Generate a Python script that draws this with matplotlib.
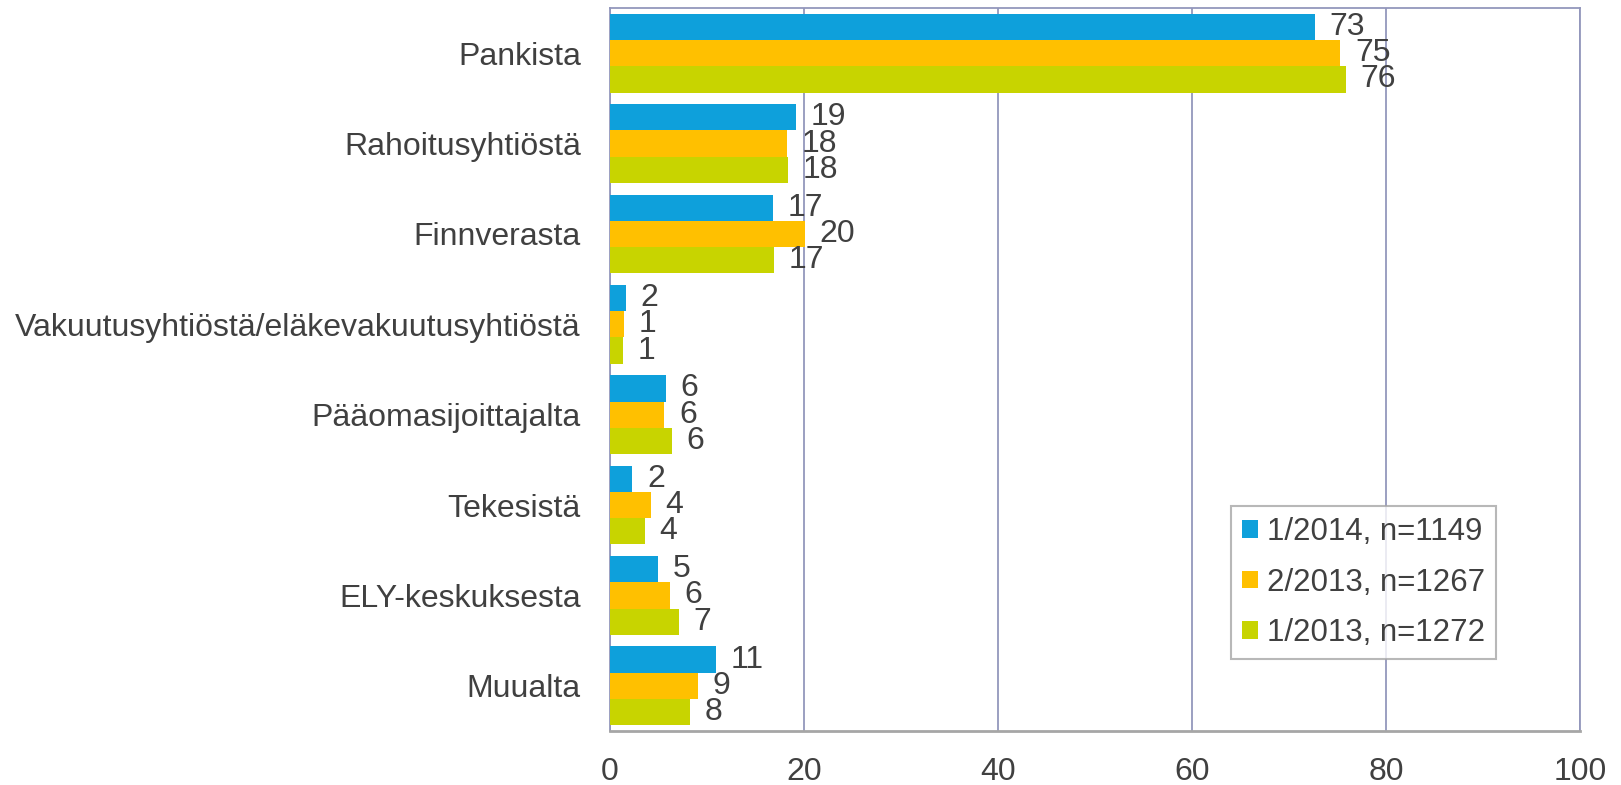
import numpy as np
import matplotlib.pyplot as plt
from matplotlib.patches import Patch

plt.rcParams['font.family'] = ['Liberation Sans', 'DejaVu Sans']

# Rahoituksen lähteet (%), kolme kyselykierrosta
kategoriat = ['Pankista', 'Rahoitusyhtiöstä', 'Finnverasta',
              'Vakuutusyhtiöstä/eläkevakuutusyhtiöstä', 'Pääomasijoittajalta',
              'Tekesistä', 'ELY-keskuksesta', 'Muualta']
kierros_2014_1 = [72.7, 19.2, 16.8, 1.6, 5.8, 2.3, 5.0, 10.9]
kierros_2013_2 = [75.3, 18.3, 20.1, 1.4, 5.6, 4.2, 6.2, 9.1]
kierros_2013_1 = [75.9, 18.4, 16.9, 1.3, 6.4, 3.6, 7.1, 8.3]
sarjat = ['1/2014, n=1149', '2/2013, n=1267', '1/2013, n=1272']
varit = ['#0EA0DB', '#FFC000', '#C8D400']

tekstivari = '#404040'
viivavari = '#9397BC'
fs = 23

fig = plt.figure(figsize=(16.21, 7.85), dpi=100)
ax = fig.add_axes([0.3763, 0.0688, 0.9747 - 0.3763, 0.9898 - 0.0688])

y = np.arange(len(kategoriat))
h = 0.29
for i, (arvot, vari) in enumerate(zip([kierros_2014_1, kierros_2013_2, kierros_2013_1], varit)):
    pos = y + (i - 1) * h
    ax.barh(pos, arvot, height=h, color=vari, zorder=3)
    for yy, v in zip(pos, arvot):
        ax.annotate(f'{round(v)}', xy=(v, yy), xytext=(10.5, 0), textcoords='offset points',
                    va='center', ha='left', fontsize=fs, color=tekstivari)

ax.set_xlim(0, 100)
ax.set_ylim(len(kategoriat) - 0.5, -0.5)
ax.set_xticks(np.arange(0, 101, 20))
ax.set_yticks(y)
ax.set_yticklabels(kategoriat)
ax.tick_params(axis='both', length=0, labelsize=fs, labelcolor=tekstivari)
ax.tick_params(axis='y', pad=21)
ax.tick_params(axis='x', pad=19)
ax.xaxis.grid(True, color=viivavari, linewidth=1.3, zorder=0)
for s in ['top', 'right', 'left']:
    ax.spines[s].set_color(viivavari)
    ax.spines[s].set_linewidth(1.3)
ax.spines['bottom'].set_color('#A6A6A6')
ax.spines['bottom'].set_linewidth(2)

kahvat = [Patch(facecolor=c) for c in varit]
leg = fig.legend(kahvat, sarjat, loc='upper left', bbox_to_anchor=(1231 / 1621, 1 - 506 / 785),
                 fontsize=22.5, frameon=True, fancybox=False, edgecolor='#A6A6A6',
                 handlelength=0.5, handleheight=0.5, handletextpad=0.3,
                 labelspacing=0.66, borderpad=0.35, borderaxespad=0)
leg.get_frame().set_linewidth(1.5)
for t in leg.get_texts():
    t.set_color(tekstivari)

plt.savefig('out.png', dpi=100)
plt.close()
